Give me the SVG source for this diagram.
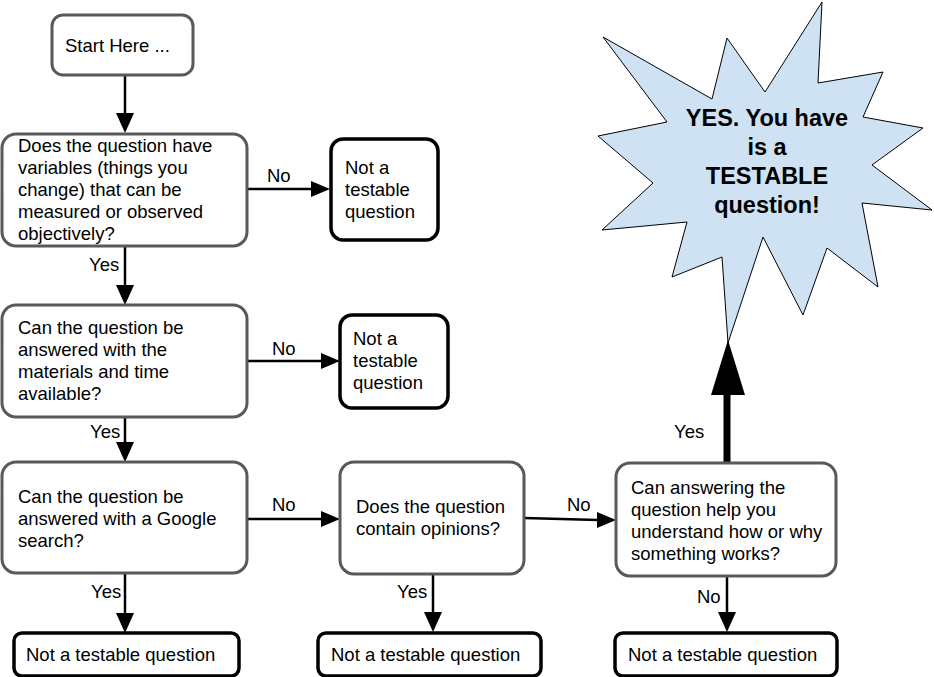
<svg xmlns="http://www.w3.org/2000/svg" width="934" height="677" viewBox="0 0 934 677">
<defs>
<style>
text{font-family:"Liberation Sans",Arial,sans-serif;font-size:18.5px;fill:#000}
.q{fill:#fff;stroke:#595959;stroke-width:3}
.t{fill:#fff;stroke:#000;stroke-width:3.5}
.c{stroke:#000;stroke-width:2.5;fill:none}
.b{font-weight:bold;font-size:23.5px;text-anchor:middle}
</style>
</defs>
<rect width="934" height="677" fill="#fff"/>
<g id="connectors">
<line class="c" x1="125" y1="75" x2="125" y2="113"/><path d="M116,113 L134,113 L125,133 Z"/>
<line class="c" x1="247" y1="189" x2="312" y2="189"/><path d="M311,181 L311,197 L330,189 Z"/>
<text x="267" y="182">No</text>
<line class="c" x1="125" y1="246" x2="125" y2="286"/><path d="M116,285 L134,285 L125,305 Z"/>
<text x="89" y="271">Yes</text>
<line class="c" x1="247" y1="361" x2="322" y2="361"/><path d="M321,353 L321,369 L340,361 Z"/>
<text x="272" y="355">No</text>
<line class="c" x1="125" y1="417" x2="125" y2="443"/><path d="M116,442 L134,442 L125,462 Z"/>
<text x="90" y="438">Yes</text>
<line class="c" x1="247" y1="519" x2="322" y2="519"/><path d="M321,511 L321,527 L340,519 Z"/>
<text x="272" y="511">No</text>
<line class="c" x1="524" y1="518" x2="598" y2="520"/><path d="M597,512 L597,528 L616,520 Z"/>
<text x="567" y="511">No</text>
<line class="c" x1="125" y1="573" x2="125" y2="614"/><path d="M116,613 L134,613 L125,633 Z"/>
<text x="91" y="598">Yes</text>
<line class="c" x1="433" y1="574" x2="433" y2="613"/><path d="M424,612 L442,612 L433,632 Z"/>
<text x="397" y="598">Yes</text>
<line class="c" x1="727" y1="576" x2="727" y2="613"/><path d="M718,612 L736,612 L727,632 Z"/>
<text x="697" y="603">No</text>
<line x1="727" y1="463" x2="727" y2="392" stroke="#000" stroke-width="7"/><path d="M711,395 L745,395 L728,340 Z"/>
<text x="674" y="438">Yes</text>
</g>
<g id="start"><rect class="q" x="52" y="15" width="141" height="60" rx="11"/><text x="65" y="52">Start Here ...</text></g>
<g id="q1"><rect class="q" x="2" y="134" width="245" height="112" rx="14"/>
<text x="18" y="152">Does the question have</text><text x="18" y="174">variables (things you</text><text x="18" y="196">change) that can be</text><text x="18" y="218">measured or observed</text><text x="18" y="240">objectively?</text></g>
<g id="n1"><rect class="t" x="331" y="139" width="107" height="101" rx="12"/>
<text x="345" y="174">Not a</text><text x="345" y="196">testable</text><text x="345" y="218">question</text></g>
<g id="q2"><rect class="q" x="2" y="305" width="245" height="112" rx="14"/>
<text x="18" y="334">Can the question be</text><text x="18" y="356">answered with the</text><text x="18" y="378">materials and time</text><text x="18" y="400">available?</text></g>
<g id="n2"><rect class="t" x="340" y="315" width="108" height="93" rx="12"/>
<text x="353" y="345">Not a</text><text x="353" y="367">testable</text><text x="353" y="389">question</text></g>
<g id="q3"><rect class="q" x="2" y="462" width="245" height="111" rx="14"/>
<text x="18" y="503">Can the question be</text><text x="18" y="525">answered with a Google</text><text x="18" y="547">search?</text></g>
<g id="q4"><rect class="q" x="340" y="462" width="184" height="112" rx="14"/>
<text x="356" y="513">Does the question</text><text x="356" y="535">contain opinions?</text></g>
<g id="q5"><rect class="q" x="616" y="463" width="220" height="113" rx="14"/>
<text x="631" y="494">Can answering the</text><text x="631" y="516">question help you</text><text x="631" y="538">understand how or why</text><text x="631" y="560">something works?</text></g>
<g id="n3"><rect class="t" x="14" y="633" width="225" height="43" rx="8"/><text x="26" y="661">Not a testable question</text></g>
<g id="n4"><rect class="t" x="318" y="633" width="223" height="43" rx="8"/><text x="331" y="661">Not a testable question</text></g>
<g id="n5"><rect class="t" x="615" y="633" width="222" height="43" rx="8"/><text x="628" y="661">Not a testable question</text></g>
<g id="yes">
<path d="M822,2 L818,83 L883,72 L863,117 L923,128 L872,165 L932,210 L862,203 L878,287 L827,248 L803,315 L763,237 L728,343 L722,257 L672,277 L687,222 L602,230 L653,183 L598,136 L667,122 L603,37 L712,99 L727,38 L765,92 Z" fill="#cfe2f3" stroke="#000" stroke-width="1"/>
<text class="b" x="767" y="126">YES. You have</text><text class="b" x="767" y="155">is a</text><text class="b" x="767" y="184">TESTABLE</text><text class="b" x="767" y="213">question!</text>
</g>
</svg>
